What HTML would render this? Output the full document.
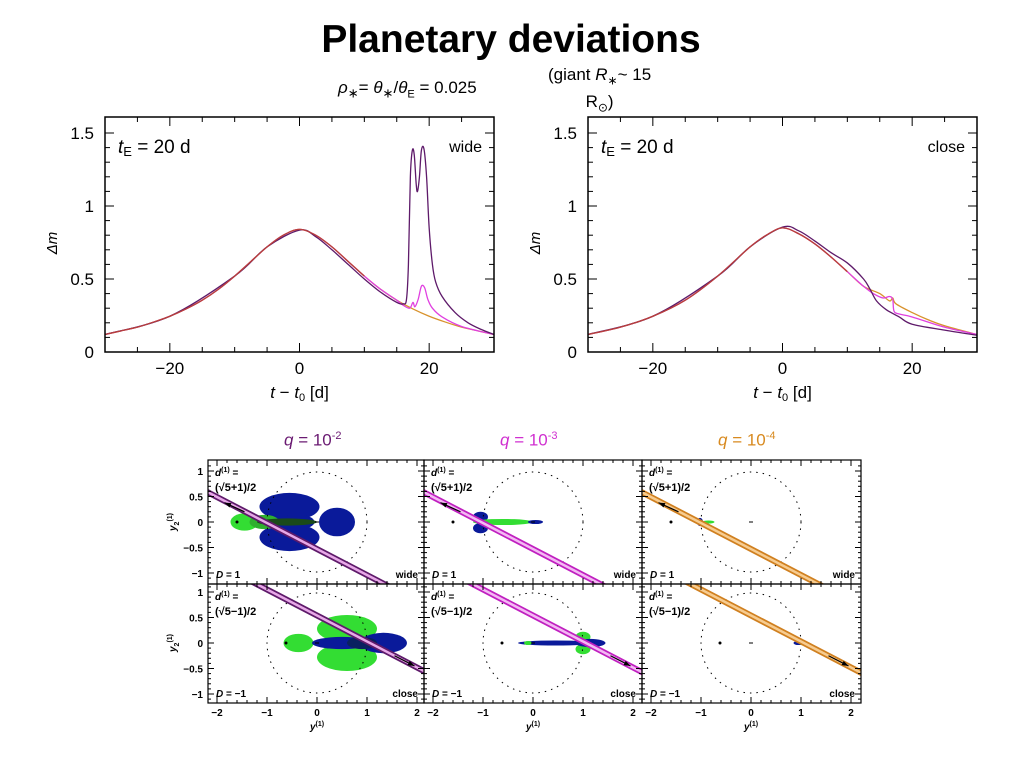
<!DOCTYPE html>
<html><head><meta charset="utf-8"><style>
html,body{margin:0;padding:0;background:#fff;}
body{width:1024px;height:768px;position:relative;overflow:hidden;font-family:"Liberation Sans",sans-serif;}
.t{position:absolute;white-space:nowrap;color:#000;}
</style></head><body>
<div class="t" style="left:0;width:1022px;text-align:center;top:18px;font-size:39px;font-weight:bold;">Planetary deviations</div>
<div class="t" style="left:338px;top:78px;font-size:17px;"><i>ρ</i><sub style="font-size:13px">∗</sub>= <i>θ</i><sub style="font-size:13px">∗</sub>/<i>θ</i><sub style="font-size:11px">E</sub> = 0.025</div>
<div class="t" style="left:548px;top:64px;font-size:17px;text-align:center;line-height:22px;">(giant <i>R</i><sub style="font-size:12px">∗</sub>~ 15<br>R<sub style="font-size:12px">⊙</sub>)</div>
<div class="t" style="left:284px;top:430px;font-size:17px;color:#6a1a72;"><i>q</i> = 10<sup style="font-size:11px">-2</sup></div>
<div class="t" style="left:500px;top:430px;font-size:17px;color:#d030d0;"><i>q</i> = 10<sup style="font-size:11px">-3</sup></div>
<div class="t" style="left:718px;top:430px;font-size:17px;color:#d88a20;"><i>q</i> = 10<sup style="font-size:11px">-4</sup></div>
<svg id="s" width="1024" height="768" style="position:absolute;left:0;top:0"></svg>
<script>
// ---- light curve data ----
const baseT = [-30,-27.5,-25,-22.5,-20,-17.5,-15,-12.5,-10,-7.5,-5,-2.5,0,2.5,5,7.5,10,12.5,15,17.5,20,22.5,25,27.5,30];
const baseDm = [.12,.145,.17,.205,.245,.295,.355,.43,.52,.62,.72,.80,.84,.80,.72,.62,.52,.43,.355,.295,.245,.205,.17,.145,.12];
const wideQ2T = [-30,-20,-10,-5,0,2.5,5,7.5,10,12.5,15,16,16.5,16.8,17.1,17.4,17.7,18,18.2,18.5,18.8,19.2,19.6,20,20.5,21,22,24,26,28,30];
const wideQ2Dm = [.12,.245,.52,.72,.835,.79,.70,.60,.50,.41,.34,.33,.36,.6,1.2,1.38,1.35,1.15,1.1,1.2,1.38,1.39,1.2,.85,.6,.48,.38,.27,.2,.155,.12];
const wideQ3T = [15,16,17,17.5,17.8,18.3,18.8,19.3,19.8,20.5,22,25,30];
const wideQ3Dm = [.355,.32,.30,.34,.31,.36,.45,.44,.36,.30,.24,.175,.12];
const closeBaseT = [-30,-25,-20,-15,-10,-5,-2.5,0,2.5,5,7.5,10,12.5,15,16.5,17,17.5,20,22.5,25,30];
const closeBaseDm = [.12,.17,.245,.355,.52,.72,.80,.85,.81,.74,.65,.55,.45,.40,.35,.37,.33,.27,.22,.18,.12];
const closeQ3T = [12.5,14,15.5,16.5,17,17.2,18,20,25,30];
const closeQ3Dm = [.45,.40,.37,.38,.36,.28,.26,.24,.17,.12];
const closeQ2T = [-30,-20,-10,-5,0,2.5,5,7.5,10,12.5,13.5,14.5,16,18,20,25,30];
const closeQ2Dm = [.12,.245,.52,.72,.855,.83,.76,.68,.61,.50,.43,.35,.29,.24,.19,.15,.115];
const xTicks = [-20,0,20];
const yTicks = [0,0.5,1,1.5];

const NS="http://www.w3.org/2000/svg", svg=document.getElementById('s');
function mk(tag,attrs,parent){const e=document.createElementNS(NS,tag);for(const k in attrs)e.setAttribute(k,attrs[k]);(parent||svg).appendChild(e);return e;}
function smooth(pts){
  let d='M'+pts[0][0]+','+pts[0][1];
  for(let i=0;i<pts.length-1;i++){
    const p0=pts[Math.max(0,i-1)],p1=pts[i],p2=pts[i+1],p3=pts[Math.min(pts.length-1,i+2)];
    const c1=[p1[0]+(p2[0]-p0[0])/6,p1[1]+(p2[1]-p0[1])/6],c2=[p2[0]-(p3[0]-p1[0])/6,p2[1]-(p3[1]-p1[1])/6];
    d+=' C'+c1[0]+','+c1[1]+' '+c2[0]+','+c2[1]+' '+p2[0]+','+p2[1];
  }
  return d;
}

function lightChart(x0,name,series,tag){
  const L=x0,R=x0+389,T=117,B=352;
  const sx=t=>L+(t+30)/60*(R-L), sy=v=>B-v*146;
  const g=mk('g',{});
  
  
  const cp='cp'+name; const d=mk('clipPath',{id:cp},g); mk('rect',{x:L,y:T,width:R-L,height:B-T},d);
  series.forEach(s=>{
    const p=mk('path',{d:smooth(s.t.map((t,i)=>[sx(t),sy(s.v[i])])),fill:'none',stroke:s.c,'stroke-width':1.3,'clip-path':'url(#'+cp+')'},g);
    
    
  });
  mk('rect',{x:L,y:T,width:R-L,height:B-T,fill:'none',stroke:'#000','stroke-width':1.5},g);
  for(let t=-25;t<=25;t+=5){const M=t%20==0?9:5;mk('line',{x1:sx(t),x2:sx(t),y1:B,y2:B-M,stroke:'#000'},g);mk('line',{x1:sx(t),x2:sx(t),y1:T,y2:T+M,stroke:'#000'},g);}
  for(let k=1;k<=15;k++){const v=k/10,M=k%5==0?9:5;mk('line',{x1:L,x2:L+M,y1:sy(v),y2:sy(v),stroke:'#000'},g);mk('line',{x1:R,x2:R-M,y1:sy(v),y2:sy(v),stroke:'#000'},g);}
  xTicks.forEach(t=>{const e=mk('text',{x:sx(t),y:374,'text-anchor':'middle','font-size':17},g);e.textContent=(t<0?'−':'')+Math.abs(t);
    });
  yTicks.forEach(v=>{const e=mk('text',{x:L-11,y:sy(v)+6,'text-anchor':'end','font-size':17},g);e.textContent=String(v);
    });
  const yl=mk('text',{x:L-48,y:243,'font-size':15,'font-style':'italic',transform:'rotate(-90 '+(L-48)+' 243)','text-anchor':'middle'},g);yl.textContent='Δm';
  
  const xl=mk('text',{x:sx(0),y:398,'font-size':17,'text-anchor':'middle'},g);
  xl.innerHTML='<tspan font-style="italic">t</tspan> − <tspan font-style="italic">t</tspan><tspan font-size="11" dy="3">0</tspan><tspan dy="-3"> [d]</tspan>';
  
  const te=mk('text',{x:L+13,y:153,'font-size':19},g);te.innerHTML='<tspan font-style="italic">t</tspan><tspan font-size="13" dy="3">E</tspan><tspan dy="-3"> = 20 d</tspan>';
  
  const w=mk('text',{x:R-12,y:152,'font-size':16,'text-anchor':'end'},g);w.textContent=tag;
  
}
lightChart(105,'wide-chart',[
  {t:baseT,v:baseDm,c:'#d8922c',n:'q4-curve'},
  {t:baseT.filter(t=>t<=15).concat(wideQ3T.slice(1)),v:baseDm.filter((v,i)=>baseT[i]<=15).concat(wideQ3Dm.slice(1)),c:'#e040e0',n:'q3-curve'},
  {t:wideQ2T,v:wideQ2Dm,c:'#5e1a6a',n:'q2-curve'},
  {t:baseT.filter(t=>t<=12),v:baseDm.filter((v,i)=>baseT[i]<=12),c:'#b8403a',n:'base-overlap'}
],'wide');
lightChart(588,'close-chart',[
  {t:closeBaseT,v:closeBaseDm,c:'#d8922c',n:'q4-curve'},
  {t:closeBaseT.filter(t=>t<=12).concat(closeQ3T),v:closeBaseDm.filter((v,i)=>closeBaseT[i]<=12).concat(closeQ3Dm),c:'#e040e0',n:'q3-curve'},
  {t:closeQ2T,v:closeQ2Dm,c:'#5e1a6a',n:'q2-curve'},
  {t:closeBaseT.filter(t=>t<=10),v:closeBaseDm.filter((v,i)=>closeBaseT[i]<=10),c:'#b8403a',n:'base-overlap'}
],'close');

// ---- bottom caustic panels ----
const colCenters=[317,533,751], rowCenters=[522,643], colLeft=[208,424,642], colRight=[424,642,861], rowTop=[460,584], rowBot=[584,703];
const qLine=['#5e1a6a','#c020c0','#d08020'], qFill=['#e8a8e8','#f4b8f4','#f7cc90'];
const blobs=[
 [[-0.55,0.3,0.6,0.27,'#0a1a9a'],[-0.55,-0.3,0.6,0.27,'#0a1a9a'],[0.4,0,0.36,0.28,'#0a1a9a'],[-0.4,0,0.35,0.15,'#0a1a9a'],[-1.45,0,0.28,0.17,'#33dd33'],[-1.05,0,0.3,0.14,'#2fb02f'],[-0.6,0,0.6,0.07,'#1a4a1a']],
 [[-1.05,0.1,0.15,0.1,'#0a1a9a'],[-1.05,-0.12,0.15,0.1,'#0a1a9a'],[-0.6,0,0.6,0.06,'#33dd33'],[0.05,0,0.15,0.04,'#0a1a9a']],
 [[-1.02,0,0.06,0.08,'#0a1a9a'],[-0.85,0,0.12,0.03,'#33dd33']],
 [[0.6,0.28,0.6,0.27,'#33dd33'],[0.6,-0.28,0.6,0.27,'#33dd33'],[-0.37,0,0.3,0.18,'#33dd33'],[0.5,0,0.6,0.12,'#0a1a9a'],[1.33,0,0.47,0.2,'#0a1a9a'],[0.9,0,0.3,0.12,'#0a2060']],
 [[0.45,0,0.75,0.05,'#0a1a9a'],[1.0,0.12,0.15,0.1,'#33dd33'],[1.0,-0.12,0.15,0.1,'#33dd33'],[1.15,0,0.3,0.08,'#0a1a9a'],[-0.1,0,0.08,0.04,'#33dd33']],
 [[0.95,0,0.1,0.04,'#0a1a9a'],[1.05,0,0.08,0.05,'#33dd33']]
];
for(let r=0;r<2;r++)for(let c=0;c<3;c++){
  const L=colLeft[c],R=colRight[c],T=rowTop[r],B=rowBot[r],cx=colCenters[c],cy=rowCenters[r];
  const X=x=>cx+x*50, Y=y=>cy-y*51;
  const g=mk('g',{});
  
  
  const cp='pc'+r+c;const d=mk('clipPath',{id:cp},g);mk('rect',{x:L,y:T,width:R-L,height:B-T},d);
  const cg=mk('g',{'clip-path':'url(#'+cp+')'},g);
  blobs[r*3+c].forEach(b=>mk('ellipse',{cx:X(b[0]),cy:Y(b[1]),rx:b[2]*50,ry:b[3]*51,fill:b[4]},cg));
  mk('circle',{cx:X(0),cy:Y(0),r:50,fill:'none',stroke:'#000','stroke-dasharray':'1.5 5'},cg);
  if(r==0){mk('circle',{cx:X(-1.6),cy:Y(0),r:1.5},cg);}
  else{mk('circle',{cx:X(-0.62),cy:Y(0),r:1.5},cg);}
  mk('line',{x1:X(-0.04),x2:X(0.04),y1:Y(0),y2:Y(0),stroke:'#000'},cg);
  const f=r==0?(x=>-0.51*(x+1)-0.02):(x=>-0.51*(x-1)+0.03);
  mk('line',{x1:X(-2.5),y1:Y(f(-2.5)),x2:X(2.5),y2:Y(f(2.5)),stroke:qLine[c],'stroke-width':6},cg);
  mk('line',{x1:X(-2.5),y1:Y(f(-2.5)),x2:X(2.5),y2:Y(f(2.5)),stroke:qFill[c],'stroke-width':2.5},cg);
  const a=r==0?[-1.45,0.2,-1.85,0.38]:[1.55,-0.25,1.95,-0.45];
  mk('line',{x1:X(a[0]),y1:Y(a[1]),x2:X(a[2]),y2:Y(a[3]),stroke:'#000','stroke-width':1.2},cg);
  const ang=Math.atan2(Y(a[3])-Y(a[1]),X(a[2])-X(a[0]));
  const hx=X(a[2]),hy=Y(a[3]);
  mk('polygon',{points:[hx,hy,hx-7*Math.cos(ang-0.35),hy-7*Math.sin(ang-0.35),hx-7*Math.cos(ang+0.35),hy-7*Math.sin(ang+0.35)].join(' ')},cg);
  mk('rect',{x:L,y:T,width:R-L,height:B-T,fill:'none',stroke:'#000','stroke-width':1.2},g);
  for(let k=-22;k<=22;k+=2){const x=X(k/10);if(x<L+1||x>R-1)continue;const M=k%10==0?6:3;
    mk('line',{x1:x,x2:x,y1:B,y2:B-M,stroke:'#000'},g);mk('line',{x1:x,x2:x,y1:T,y2:T+M,stroke:'#000'},g);}
  for(let k=-12;k<=12;k++){const y=Y(k/10);if(y<T+1||y>B-1)continue;const M=k%5==0?6:3;
    mk('line',{x1:L,x2:L+M,y1:y,y2:y,stroke:'#000'},g);mk('line',{x1:R,x2:R-M,y1:y,y2:y,stroke:'#000'},g);}
  const t1=mk('text',{x:L+7,y:T+16,'font-size':10,'font-weight':'bold'},g);t1.innerHTML='<tspan font-style="italic">d</tspan><tspan font-size="7" dy="-4">(1)</tspan><tspan dy="4"> =</tspan>';
  
  const t2=mk('text',{x:L+7,y:T+31,'font-size':11,'font-weight':'bold'},g);t2.textContent=r==0?'(√5+1)/2':'(√5−1)/2';
  
  const t3=mk('text',{x:L+8,y:B-6,'font-size':10,'font-weight':'bold'},g);t3.innerHTML='<tspan font-style="italic">D</tspan> = '+(r==0?'1':'−1');
  
  const t4=mk('text',{x:R-6,y:B-6,'font-size':10,'font-weight':'bold','text-anchor':'end'},g);t4.textContent=r==0?'wide':'close';
  
  if(c==0){[1,0.5,0,-0.5,-1].forEach(v=>{const e=mk('text',{x:L-5,y:Y(v)+4,'font-size':10,'font-weight':'bold','text-anchor':'end'},g);e.textContent=v<0?'−'+Math.abs(v):String(v);
    });
    const yt=mk('text',{x:176,y:cy,'font-size':10,'font-weight':'bold','text-anchor':'middle',transform:'rotate(-90 176 '+cy+')'},g);
    yt.innerHTML='<tspan font-style="italic">y</tspan><tspan font-size="7" dy="3">2</tspan><tspan font-size="7" dy="-7">(1)</tspan>';
    }
  if(r==1){[-2,-1,0,1,2].forEach(v=>{const e=mk('text',{x:X(v),y:B+13,'font-size':10,'font-weight':'bold','text-anchor':'middle'},g);e.textContent=v<0?'−'+Math.abs(v):String(v);
    });
    const xt=mk('text',{x:cx,y:730,'font-size':10,'font-weight':'bold','text-anchor':'middle'},g);
    xt.innerHTML='<tspan font-style="italic">y</tspan><tspan font-size="7" dy="-4">(1)</tspan>';
    }
}
</script>
</body></html>
